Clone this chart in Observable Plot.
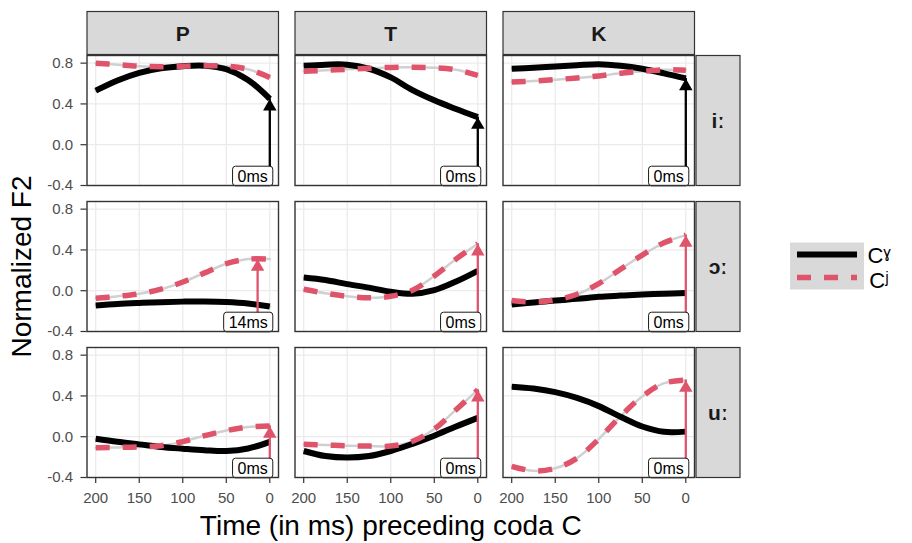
<!DOCTYPE html>
<html><head><meta charset="utf-8">
<script src="https://cdn.jsdelivr.net/npm/d3@7"></script>
<script src="https://cdn.jsdelivr.net/npm/@observablehq/plot@0.6"></script>
<style>
body{margin:0;background:#fff;}
svg{font-family:"Liberation Sans",Arial,Helvetica,sans-serif;}
</style>
</head><body><div id="chart"></div>
<script>
// ---- data ----
const places = ["P", "T", "K"];
const vowels = ["iː", "ɔː", "uː"];
const seriesNames = ["Cˠ", "Cʲ"];
const times = [200, 175, 150, 125, 100, 75, 50, 25, 0];
const xTicks = [200, 150, 100, 50, 0];
const yTicks = [-0.4, 0, 0.4, 0.8];
// panel order
const panelPlace = ["P", "T", "K", "P", "T", "K", "P", "T", "K"];
const panelVowel = ["iː", "iː", "iː", "ɔː", "ɔː", "ɔː", "uː", "uː", "uː"];
// velarized (black) F2 at each time, per panel
const velarF2 = [
  [0.53, 0.63, 0.705, 0.75, 0.77, 0.775, 0.74, 0.635, 0.45],
  [0.775, 0.785, 0.785, 0.745, 0.66, 0.535, 0.435, 0.35, 0.27],
  [0.745, 0.755, 0.768, 0.78, 0.79, 0.775, 0.745, 0.70, 0.65],
  [-0.145, -0.13, -0.12, -0.112, -0.107, -0.105, -0.11, -0.125, -0.155],
  [0.13, 0.105, 0.065, 0.03, -0.01, -0.03, 0.005, 0.09, 0.195],
  [-0.135, -0.115, -0.095, -0.08, -0.06, -0.048, -0.037, -0.03, -0.023],
  [-0.02, -0.05, -0.075, -0.1, -0.117, -0.132, -0.14, -0.115, -0.05],
  [-0.14, -0.19, -0.205, -0.19, -0.14, -0.07, 0.01, 0.10, 0.185],
  [0.49, 0.472, 0.437, 0.38, 0.30, 0.195, 0.10, 0.048, 0.05]
];
// palatalized (red) F2 at each time, per panel
const palatalF2 = [
  [0.80, 0.785, 0.77, 0.765, 0.77, 0.775, 0.77, 0.74, 0.66],
  [0.72, 0.73, 0.74, 0.75, 0.758, 0.76, 0.755, 0.735, 0.68],
  [0.615, 0.625, 0.638, 0.655, 0.675, 0.70, 0.72, 0.735, 0.73],
  [-0.075, -0.055, -0.03, 0.015, 0.085, 0.175, 0.265, 0.31, 0.31],
  [0.015, -0.025, -0.055, -0.07, -0.055, 0.005, 0.145, 0.31, 0.46],
  [-0.095, -0.11, -0.09, -0.035, 0.07, 0.21, 0.35, 0.47, 0.545],
  [-0.108, -0.105, -0.1, -0.088, -0.048, 0.01, 0.06, 0.095, 0.105],
  [-0.075, -0.082, -0.088, -0.092, -0.092, -0.045, 0.075, 0.265, 0.46],
  [-0.29, -0.335, -0.31, -0.21, -0.023, 0.2, 0.395, 0.525, 0.555]
];
// divergence arrows per panel
const arrowTime = [0, 0, 0, 14, 0, 0, 0, 0, 0];
const arrowValue = [0.45, 0.27, 0.65, 0.31, 0.46, 0.545, 0.105, 0.46, 0.555];
const arrowSeries = ["Cˠ", "Cˠ", "Cˠ", "Cʲ", "Cʲ", "Cʲ", "Cʲ", "Cʲ", "Cʲ"];
const arrowText = ["0ms", "0ms", "0ms", "14ms", "0ms", "0ms", "0ms", "0ms", "0ms"];
const labelTime = 0;
const yBottom = -0.4;

(function () {
const BLACK = "#000000", RED = "#DF536B";

// ---- tables ----
const rows = [];
panelPlace.forEach((p, i) => {
  times.forEach((t, j) => {
    rows.push({place: p, vowel: panelVowel[i], series: seriesNames[0], t, v: velarF2[i][j]});
    rows.push({place: p, vowel: panelVowel[i], series: seriesNames[1], t, v: palatalF2[i][j]});
  });
});
const arrows = panelPlace.map((p, i) => ({
  place: p, vowel: panelVowel[i], t: arrowTime[i], v: arrowValue[i],
  series: arrowSeries[i], label: arrowText[i], lt: labelTime, y0: yBottom
}));
const blackRows = rows.filter(d => d.series === seriesNames[0]);
const redRows = rows.filter(d => d.series === seriesNames[1]);
const blackArrows = arrows.filter(d => d.series === seriesNames[0]);
const redArrows = arrows.filter(d => d.series === seriesNames[1]);

const fac = {fx: "place", fy: "vowel"};
const curve = "catmull-rom";

const plot = Plot.plot({
  width: 912, height: 543,
  marginLeft: 86.5, marginRight: 218, marginTop: 55, marginBottom: 66,
  style: {background: "white", fontFamily: '"Liberation Sans",Arial,sans-serif', fontSize: "15px"},
  x: {domain: [210, -10], label: null},
  y: {domain: [-0.4, 0.875], label: null},
  fx: {domain: places, paddingInner: 16.5 / 208, paddingOuter: 0, round: false, axis: null, label: null},
  fy: {domain: vowels, paddingInner: 16 / 146, paddingOuter: 0, round: false, axis: null, label: null},
  marks: [
    Plot.gridX({ticks: xTicks, stroke: "#ebebeb", strokeOpacity: 1, strokeWidth: 1.3}),
    Plot.gridY({ticks: yTicks, stroke: "#ebebeb", strokeOpacity: 1, strokeWidth: 1.3}),
    Plot.line(rows, {...fac, x: "t", y: "v", z: "series", stroke: "#d0d0d0", strokeWidth: 2.5, curve}),
    Plot.line(blackRows, {...fac, x: "t", y: "v", stroke: BLACK, strokeWidth: 6, strokeLinecap: "butt", curve}),
    Plot.line(redRows, {...fac, x: "t", y: "v", stroke: RED, strokeWidth: 5.5, strokeLinecap: "butt", strokeDasharray: "14,13", curve}),
    Plot.ruleX(blackArrows, {...fac, x: "t", y1: "y0", y2: "v", stroke: BLACK, strokeWidth: 2.3}),
    Plot.ruleX(redArrows, {...fac, x: "t", y1: "y0", y2: "v", stroke: RED, strokeWidth: 2.3}),
    Plot.dot(blackArrows, {...fac, x: "t", y: "v", symbol: "triangle", r: 5, fill: BLACK, stroke: "none", dy: 7.8}),
    Plot.dot(redArrows, {...fac, x: "t", y: "v", symbol: "triangle", r: 5, fill: RED, stroke: "none", dy: 7.8}),
    Plot.text(arrows, {...fac, x: "lt", y: "y0", text: "label", textAnchor: "end", lineAnchor: "bottom", dx: -2, dy: -4, fontSize: 16, fill: "black", ariaDescription: "gaplabel"}),
    Plot.frame({stroke: "#333333", strokeWidth: 1.4}),
    Plot.axisX({ticks: xTicks, tickSize: 6, tickPadding: 9, stroke: "#333333", fill: "#4d4d4d", fontSize: 15, label: null, strokeWidth: 1.2, ariaDescription: "xticks"}),
    Plot.axisY({ticks: yTicks, tickSize: 6, tickPadding: 8, stroke: "#333333", fill: "#4d4d4d", fontSize: 15, label: null, strokeWidth: 1.2, tickFormat: d => d.toFixed(1), ariaDescription: "yticks"})
  ]
});
document.getElementById("chart").append(plot);

// ---- make sure tick labels use the intended size ----
plot.querySelectorAll("text").forEach(t => {
  const g = t.closest('g[aria-description="gaplabel"]');
  t.style.fontSize = g ? "16px" : "15px";
  t.style.fontFamily = '"Liberation Sans",Arial,sans-serif';
});

// ---- decoration: label boxes, strips, titles, legend ----
const svg = d3.select(plot);
svg.selectAll('g[aria-description="gaplabel"] text').each(function() {
  const b = this.getBBox();
  const padX = 5, padY = 1.3;
  const r = document.createElementNS("http://www.w3.org/2000/svg", "rect");
  r.setAttribute("x", b.x - padX); r.setAttribute("y", b.y - padY);
  r.setAttribute("width", b.width + 2 * padX); r.setAttribute("height", b.height + 2 * padY);
  r.setAttribute("rx", 3); r.setAttribute("fill", "white"); r.setAttribute("stroke", "black");
  r.setAttribute("stroke-width", 0.9);
  const tr = this.getAttribute("transform");
  if (tr) r.setAttribute("transform", tr);
  this.parentNode.insertBefore(r, this);
});

const sr = plot.getBoundingClientRect();
const frames = [...plot.querySelectorAll('g[aria-label="frame"] rect')].map(r => {
  const b = r.getBoundingClientRect();
  return {x: b.left - sr.left, y: b.top - sr.top, w: b.width, h: b.height};
});
const topY = frames.length ? d3.min(frames, f => f.y) : 55;
const colsMap = new Map(), rowsMap = new Map();
frames.forEach(f => {
  const kx = Math.round(f.x), ky = Math.round(f.y);
  if (!colsMap.has(kx)) colsMap.set(kx, f);
  if (!rowsMap.has(ky)) rowsMap.set(ky, f);
});
const cols = [...colsMap.values()].sort((a, b) => a.x - b.x);
const rws = [...rowsMap.values()].sort((a, b) => a.y - b.y);
const deco = svg.append("g");
const stripSize = 43;
cols.forEach((c, i) => {
  deco.append("rect").attr("x", c.x).attr("y", topY - stripSize - 1).attr("width", c.w).attr("height", stripSize)
    .attr("fill", "#d9d9d9").attr("stroke", "#333333").attr("stroke-width", 1.2);
  deco.append("text").attr("x", c.x + c.w / 2).attr("y", topY - 1 - stripSize / 2).attr("dy", "0.36em")
    .attr("text-anchor", "middle").attr("font-size", 21).attr("font-weight", "bold").attr("fill", "#1a1a1a").text(places[i]);
});
const rightEdge = cols.length ? d3.max(cols, c => c.x + c.w) : 694;
rws.forEach((r, i) => {
  deco.append("rect").attr("x", rightEdge + 1.5).attr("y", r.y).attr("width", stripSize + 1).attr("height", r.h)
    .attr("fill", "#d9d9d9").attr("stroke", "#333333").attr("stroke-width", 1.2);
  deco.append("text").attr("x", rightEdge + 1.5 + (stripSize + 1) / 2).attr("y", r.y + r.h / 2).attr("dy", "0.36em")
    .attr("text-anchor", "middle").attr("font-size", 21).attr("font-weight", "bold").attr("fill", "#1a1a1a").text(vowels[i]);
});
const leftX = cols.length ? cols[0].x : 86.5;
const bottomY = rws.length ? rws[rws.length - 1].y + rws[rws.length - 1].h : 477;
deco.append("text").attr("x", (leftX + rightEdge) / 2).attr("y", 535).attr("text-anchor", "middle")
  .attr("font-size", 28).attr("fill", "black").text("Time (in ms) preceding coda C");
deco.append("text").attr("transform", `translate(31,${(topY + bottomY) / 2}) rotate(-90)`).attr("text-anchor", "middle")
  .attr("font-size", 28).attr("fill", "black").text("Normalized F2");

// legend
const lg = deco.append("g");
lg.append("rect").attr("x", 790).attr("y", 242.5).attr("width", 74).attr("height", 47).attr("fill", "#d9d9d9");
lg.append("line").attr("x1", 797).attr("x2", 857).attr("y1", 254.5).attr("y2", 254.5)
  .attr("stroke", BLACK).attr("stroke-width", 6);
lg.append("line").attr("x1", 797).attr("x2", 857).attr("y1", 277.5).attr("y2", 277.5)
  .attr("stroke", RED).attr("stroke-width", 5.5).attr("stroke-dasharray", "14,13");
lg.append("text").attr("x", 879).attr("y", 263).attr("font-size", 22).attr("fill", "black").text(seriesNames[0]);
lg.append("text").attr("x", 879).attr("y", 288).attr("font-size", 22).attr("fill", "black").text(seriesNames[1]);
})();
</script>
</body></html>
